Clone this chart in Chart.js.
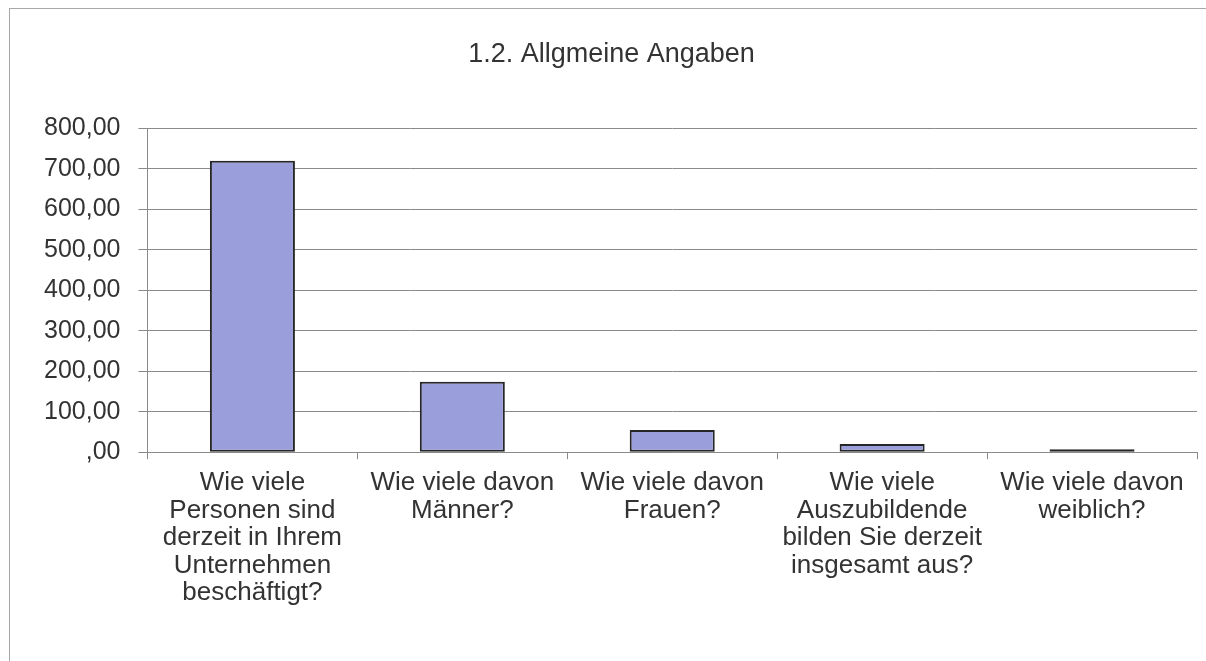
<!DOCTYPE html>
<html lang="de">
<head>
    <meta charset="UTF-8">
    <title>1.2. Allgmeine Angaben</title>
    <script src="https://cdn.jsdelivr.net/npm/chart.js"></script>
    <style>
        body { margin: 0; background: #fff; }
        .frame {
            position: absolute; left: 9px; top: 8px; width: 1210px; height: 670px;
            border-left: 1px solid #a8a8a8; border-top: 1px solid #a8a8a8;
        }
        .chart-container { position: absolute; left: 0; top: 0; width: 1206px; height: 661px; }
    </style>
</head>
<body>
    <div class="frame"></div>
    <div class="chart-container">
        <canvas id="myChart"></canvas>
    </div>

    <script>
        // Daten
        const kategorien = [
            ['Wie viele', 'Personen sind', 'derzeit in Ihrem', 'Unternehmen', 'beschäftigt?'],
            ['Wie viele davon', 'Männer?'],
            ['Wie viele davon', 'Frauen?'],
            ['Wie viele', 'Auszubildende', 'bilden Sie derzeit', 'insgesamt aus?'],
            ['Wie viele davon', 'weiblich?']
        ];
        const werte = [720, 174, 55, 20, 7];
        const yTickLabels = [',00', '100,00', '200,00', '300,00', '400,00', '500,00', '600,00', '700,00', '800,00'];

        const textFarbe = '#333333';
        const gitterFarbe = '#8a8a8a';
        const schrift = 'Liberation Sans, Arial, sans-serif';

        const chartData = {
            labels: kategorien,
            datasets: [{
                data: werte,
                backgroundColor: '#9a9fdc',
                borderColor: '#262626',
                borderWidth: 2,
                borderSkipped: false,
                barPercentage: 0.405,
                categoryPercentage: 1
            }]
        };

        const chartConfig = {
            type: 'bar',
            data: chartData,
            options: {
                responsive: true,
                maintainAspectRatio: false,
                animation: false,
                layout: { padding: { top: 30, right: 9, bottom: 44, left: 26 } },
                plugins: {
                    legend: { display: false },
                    tooltip: { enabled: false },
                    title: {
                        display: true,
                        text: '1.2. Allgmeine Angaben',
                        color: textFarbe,
                        font: { family: schrift, size: 27, weight: 'normal' },
                        padding: { top: 8, bottom: 58 }
                    }
                },
                scales: {
                    x: {
                        grid: {
                            offset: true,
                            drawOnChartArea: false,
                            tickLength: 7,
                            color: gitterFarbe
                        },
                        border: { color: gitterFarbe },
                        ticks: {
                            color: textFarbe,
                            maxRotation: 0,
                            autoSkip: false,
                            padding: 10,
                            font: { family: schrift, size: 26, lineHeight: 1.06 }
                        }
                    },
                    y: {
                        min: 0,
                        max: 800,
                        grid: { color: gitterFarbe, tickLength: 9 },
                        border: { color: gitterFarbe },
                        ticks: {
                            stepSize: 100,
                            color: textFarbe,
                            padding: 18,
                            font: { family: schrift, size: 25 },
                            callback: (wert, index) => yTickLabels[index]
                        }
                    }
                }
            }
        };

        const myChart = new Chart(document.getElementById('myChart'), chartConfig);
    </script>
</body>
</html>
